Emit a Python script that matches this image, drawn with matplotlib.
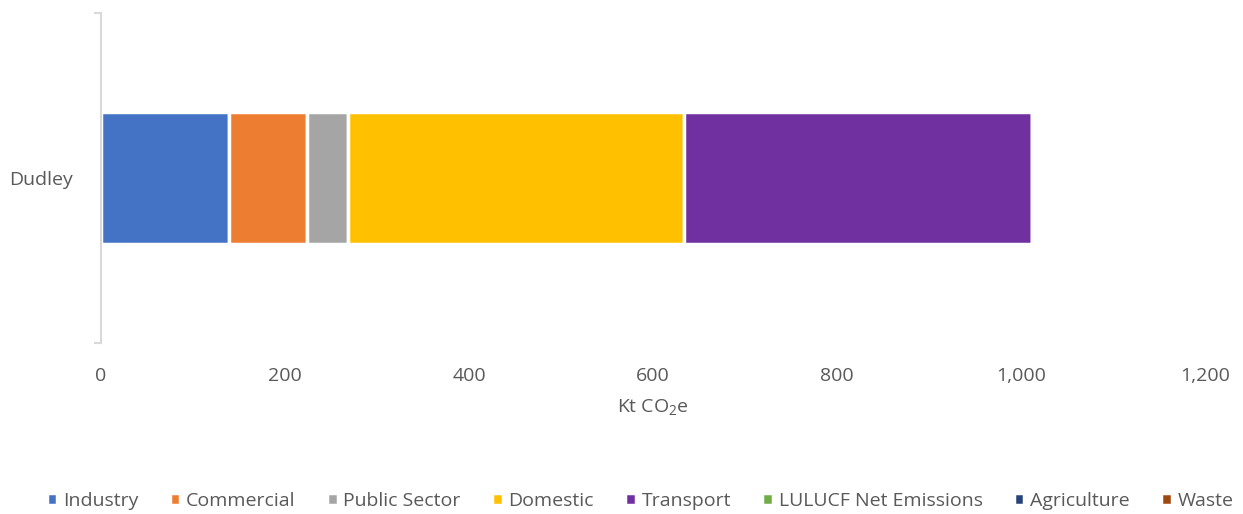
import matplotlib.pyplot as plt

plt.rcParams['font.family'] = ['Open Sans', 'DejaVu Sans']
plt.rcParams['mathtext.default'] = 'regular'

# data
area = ['Dudley']
sectors = ['Industry', 'Commercial', 'Public Sector', 'Domestic', 'Transport',
           'LULUCF Net Emissions', 'Agriculture', 'Waste']
values = [139.5, 84.5, 45, 365, 378, 0, 0.5, 0.5]
colors = ['#4472c4', '#ed7d31', '#a5a5a5', '#ffc000', '#7030a0',
          '#70ad47', '#264478', '#9e480e']

fig = plt.figure(figsize=(12.43, 5.14), dpi=100)
ax = fig.add_axes([101/1243, 1 - 343/514, 1104/1243, 330/514])

left = 0
for name, v, c in zip(sectors, values, colors):
    ax.barh(area, [v], left=left, height=0.8, color=c, edgecolor='white',
            linewidth=2.5, label=name)
    left += v

ax.set_xlim(0, 1200)
ax.set_ylim(-1, 1)
ax.set_xticks(range(0, 1201, 200))
ax.set_xticklabels(['0', '200', '400', '600', '800', '1,000', '1,200'])
ax.tick_params(axis='x', length=0, pad=17, labelsize=14, labelcolor='#595959')
ax.tick_params(axis='y', which='major', length=0, pad=20, labelsize=14, labelcolor='#595959')
ax.set_yticks([-1, 1], minor=True)
ax.tick_params(axis='y', which='minor', length=5, width=1.5, color='#d9d9d9')

for s in ['top', 'right', 'bottom']:
    ax.spines[s].set_visible(False)
ax.spines['left'].set_color('#d9d9d9')
ax.spines['left'].set_linewidth(1.5)

ax.set_xlabel('Kt CO$_2$e', fontsize=14, color='#595959', labelpad=9)

fig.legend(loc='lower center', bbox_to_anchor=(0.515, -0.026), ncol=8, frameon=False,
           fontsize=14, labelcolor='#595959', handlelength=0.55, handleheight=0.55,
           handletextpad=0.3, columnspacing=1.6)

fig.savefig('out.png', dpi=100)
